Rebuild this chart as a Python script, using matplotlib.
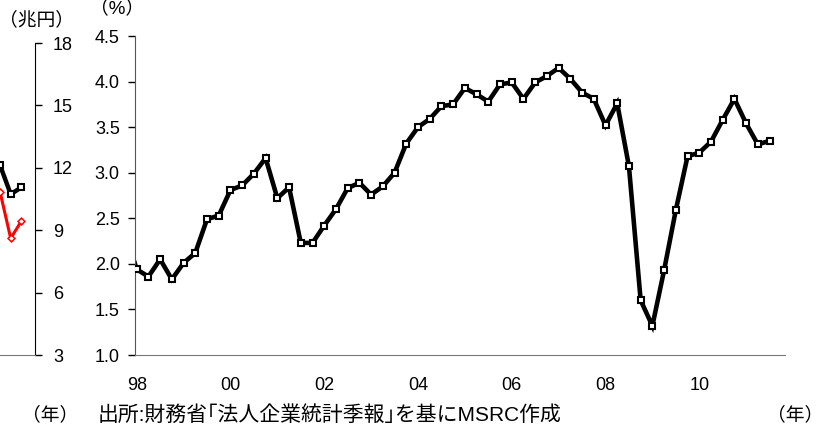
import numpy as np
import matplotlib.pyplot as plt

plt.rcParams['font.family'] = ['Liberation Sans', 'Noto Sans CJK JP', 'DejaVu Sans']

# main series: quarterly ratio (%), 98Q1 .. 11Q3
ratio = [1.94, 1.86, 2.05, 1.83, 2.01, 2.12, 2.49, 2.53,
         2.81, 2.86, 2.99, 3.16, 2.72, 2.84, 2.23, 2.23,
         2.42, 2.60, 2.83, 2.89, 2.76, 2.85, 3.00, 3.32,
         3.50, 3.59, 3.73, 3.75, 3.93, 3.86, 3.78, 3.97,
         3.99, 3.81, 3.99, 4.06, 4.15, 4.03, 3.88, 3.81,
         3.52, 3.76, 3.07, 1.60, 1.32, 1.93, 2.59, 3.18,
         3.22, 3.34, 3.58, 3.81, 3.54, 3.31, 3.35]
prev_ratio = 2.35  # 97Q4, only the tail of its segment is visible
year_labels = ['98', '00', '02', '04', '06', '08', '10']

# tail of the neighbouring chart (兆円)
left_black = [12.13, 10.73, 11.06]
left_red = [10.85, 8.61, 9.44]
left_ticks = [3, 6, 9, 12, 15, 18]

W, H = 822, 430
fig = plt.figure(figsize=(W / 100, H / 100), dpi=100)


def box(x0, y0, x1, y1):
    return [x0 / W, 1 - y1 / H, (x1 - x0) / W, (y1 - y0) / H]


# ---- left fragment ----
axl = fig.add_axes(box(0, 43, 35, 355))
xl = np.arange(len(left_black))
axl.plot(xl, left_black, color='black', lw=3.2, marker='s', ms=4.5,
         mfc='white', mec='black', mew=1.5)
axl.plot(xl, left_red, color='#ff0000', lw=2.2, marker='D', ms=3.5,
         mfc='white', mec='#ff0000', mew=1.1)
axl.set_xlim(0, 35 / 10.7)
axl.set_ylim(3, 18)
for s in ['left', 'top']:
    axl.spines[s].set_visible(False)
axl.spines['bottom'].set_color('#777777')
axl.spines['right'].set_color('black')
axl.yaxis.tick_right()
axl.set_yticks(left_ticks)
axl.tick_params(axis='y', direction='out', length=5, width=1, pad=8,
                labelsize=13)
axl.set_xticks([])
fig.text(36 / W, 1 - 20 / H, '（兆円）', ha='center', va='center', fontsize=13.5)

# ---- main chart ----
ax = fig.add_axes(box(135, 36, 785, 355))
x = np.arange(len(ratio))
ax.plot(np.r_[-1, x], np.r_[prev_ratio, ratio], color='black', lw=3.3,
        solid_joinstyle='miter', zorder=2)
ax.plot(x, ratio, ls='none', marker='s', ms=4.5, mfc='white', mec='black',
        mew=1.5, zorder=3)
px = 11.72
ax.set_xlim(-1.7 / px, (785 - 136.7) / px)
ax.set_ylim(1.0, 4.5)
ax.set_yticks(np.arange(1.0, 4.51, 0.5))
ax.set_yticklabels([f'{v:.1f}' for v in np.arange(1.0, 4.51, 0.5)])
ax.set_xticks(np.arange(0, len(ratio), 8))
ax.set_xticklabels(year_labels)
ax.tick_params(axis='y', direction='out', length=5, width=1, pad=6,
               labelsize=13)
ax.tick_params(axis='x', length=0, pad=16, labelsize=13)
for s in ['right', 'top']:
    ax.spines[s].set_visible(False)
ax.spines['left'].set_color('#555555')
ax.spines['bottom'].set_color('#777777')

fig.text(117 / W, 1 - 8 / H, '（%）', ha='center', va='center', fontsize=13.5)
fig.text(50 / W, 1 - 415 / H, '（年）', ha='center', va='center', fontsize=13.5)
fig.text(98 / W, 1 - 415 / H, '出所:財務省｢法人企業統計季報｣を基にMSRC作成',
         ha='left', va='center', fontsize=15)
fig.text(795 / W, 1 - 415 / H, '（年）', ha='center', va='center', fontsize=13.5)

fig.savefig('out.png', dpi=100)
